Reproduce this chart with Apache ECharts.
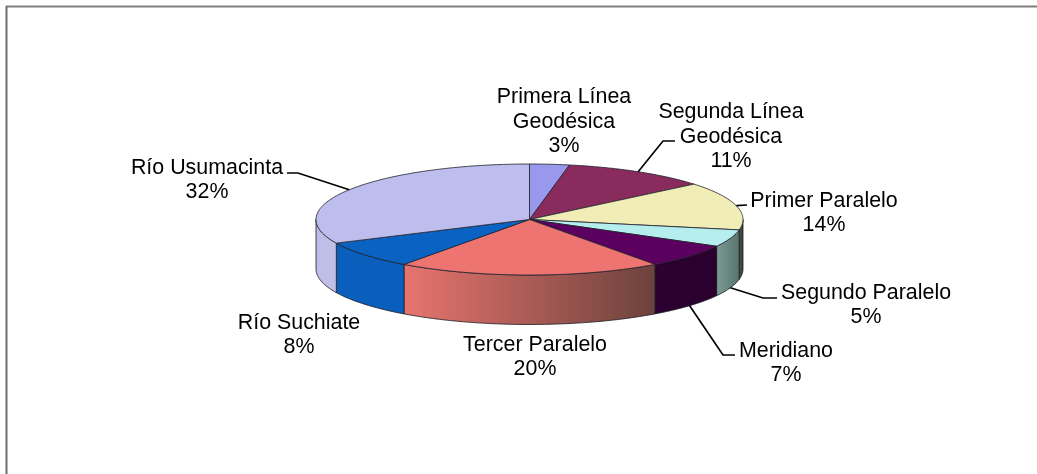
<!DOCTYPE html>
<html>
<head>
<meta charset="utf-8">
<style>html,body{margin:0;padding:0;background:#fff}#c{width:1037px;height:474px}</style>
<script src="https://cdn.jsdelivr.net/npm/echarts@6/dist/echarts.min.js"></script>
</head>
<body>
<div id="c"></div>
<script>
const categories = ['Primera Línea\nGeodésica','Segunda Línea\nGeodésica','Primer Paralelo','Segundo Paralelo','Meridiano','Tercer Paralelo','Río Suchiate','Río Usumacinta'];
const values = [3,11,14,5,7,20,8,32];
const topColors = ['#9898ec','#8a2b5e','#f0edb6','#b6eeee','#5c0060','#ee7471','#0a62c2','#bdbdee'];
const sideColors = [
  ['#5c5c90','#5c5c90'],['#551a3a','#551a3a'],['#4e5048','#3a3e3a'],['#7d9c94','#56736c'],
  ['#2c0030','#2a002e'],['#e8746e','#6c423c'],['#0a5ebc','#0a5ebc'],['#bdbde8','#c0c0e8']
];
const labelCenters = [[564,122],[731,137],[824,213],[866,305],[786,363],[535,357],[299,335],[207,180]];
const leaderBends = [null,[[675,141],[663,141]],[[747,205]],[[777,298],[763,298]],[[735,355],[723,355]],null,null,[[287,173],[298,173]]];
const LAYOUT = {cx:529.5, cy:219.5, rx:213.5, ry:55.5, depth:49.5};

const total = values.reduce((a,b)=>a+b,0);
const starts = []; values.reduce((acc,v,i)=>{starts[i]=acc; return acc+v;},0);
const ang = p => p/total*360;
const pt = (deg,dy=0)=>{const r=deg*Math.PI/180;return [LAYOUT.cx+LAYOUT.rx*Math.sin(r),LAYOUT.cy-LAYOUT.ry*Math.cos(r)+dy];};
function arc(a,b,dy){const n=Math.max(2,Math.ceil(Math.abs(b-a)));const out=[];for(let i=0;i<=n;i++)out.push(pt(a+(b-a)*i/n,dy));return out;}

function renderSlice(params){
  const i=params.dataIndex, a=ang(starts[i]), b=ang(starts[i]+values[i]);
  const children=[];
  const sa=Math.max(a,90), sb=Math.min(b,270);
  if(sb>sa){
    const poly=arc(sa,sb,0).concat(arc(sb,sa,LAYOUT.depth));
    const c=sideColors[i];
    children.push({type:'polygon',shape:{points:poly},style:{
      fill:{type:'linear',x:0,y:0,x2:1,y2:0,colorStops:[{offset:0,color:c[0]},{offset:1,color:c[1]}]},
      stroke:'#1c1c24',lineWidth:0.8}});
  }
  const top=[[LAYOUT.cx,LAYOUT.cy]].concat(arc(a,b,0));
  children.push({type:'polygon',shape:{points:top},style:{fill:topColors[i],stroke:'#22222c',lineWidth:0.8}});
  return {type:'group',children};
}
function renderLabel(params){
  const i=params.dataIndex, mid=ang(starts[i]+values[i]/2), children=[];
  const bends=leaderBends[i];
  if(bends){
    const front=mid>100&&mid<260;
    const anchor=pt(mid,front?LAYOUT.depth:0);
    children.push({type:'polyline',shape:{points:bends.concat([anchor])},style:{fill:'none',stroke:'#000',lineWidth:1.7}});
  }
  const c=labelCenters[i];
  children.push({type:'text',style:{text:categories[i]+'\n'+values[i]+'%',x:c[0],y:c[1],align:'center',verticalAlign:'middle',
    font:'21.4px "Liberation Sans", Arial, sans-serif',lineHeight:24.5,fill:'#000'}});
  return {type:'group',children};
}
const seriesData = values.map((v,i)=>({value:v,name:categories[i]}));
const chart=echarts.init(document.getElementById('c'),null,{renderer:'canvas'});
chart.setOption({
  animation:false,
  backgroundColor:'#fff',
  graphic:[
    {type:'line',shape:{x1:6,y1:6.5,x2:1037,y2:6.5},style:{stroke:'#7f7f7f',lineWidth:2}},
    {type:'line',shape:{x1:6.5,y1:6,x2:6.5,y2:474},style:{stroke:'#6f6f6f',lineWidth:2}}
  ],
  series:[
    {type:'custom',coordinateSystem:'none',renderItem:renderSlice,data:seriesData,z:2,silent:true},
    {type:'custom',coordinateSystem:'none',renderItem:renderLabel,data:seriesData,z:3,silent:true}
  ]
});
</script>
</body>
</html>
